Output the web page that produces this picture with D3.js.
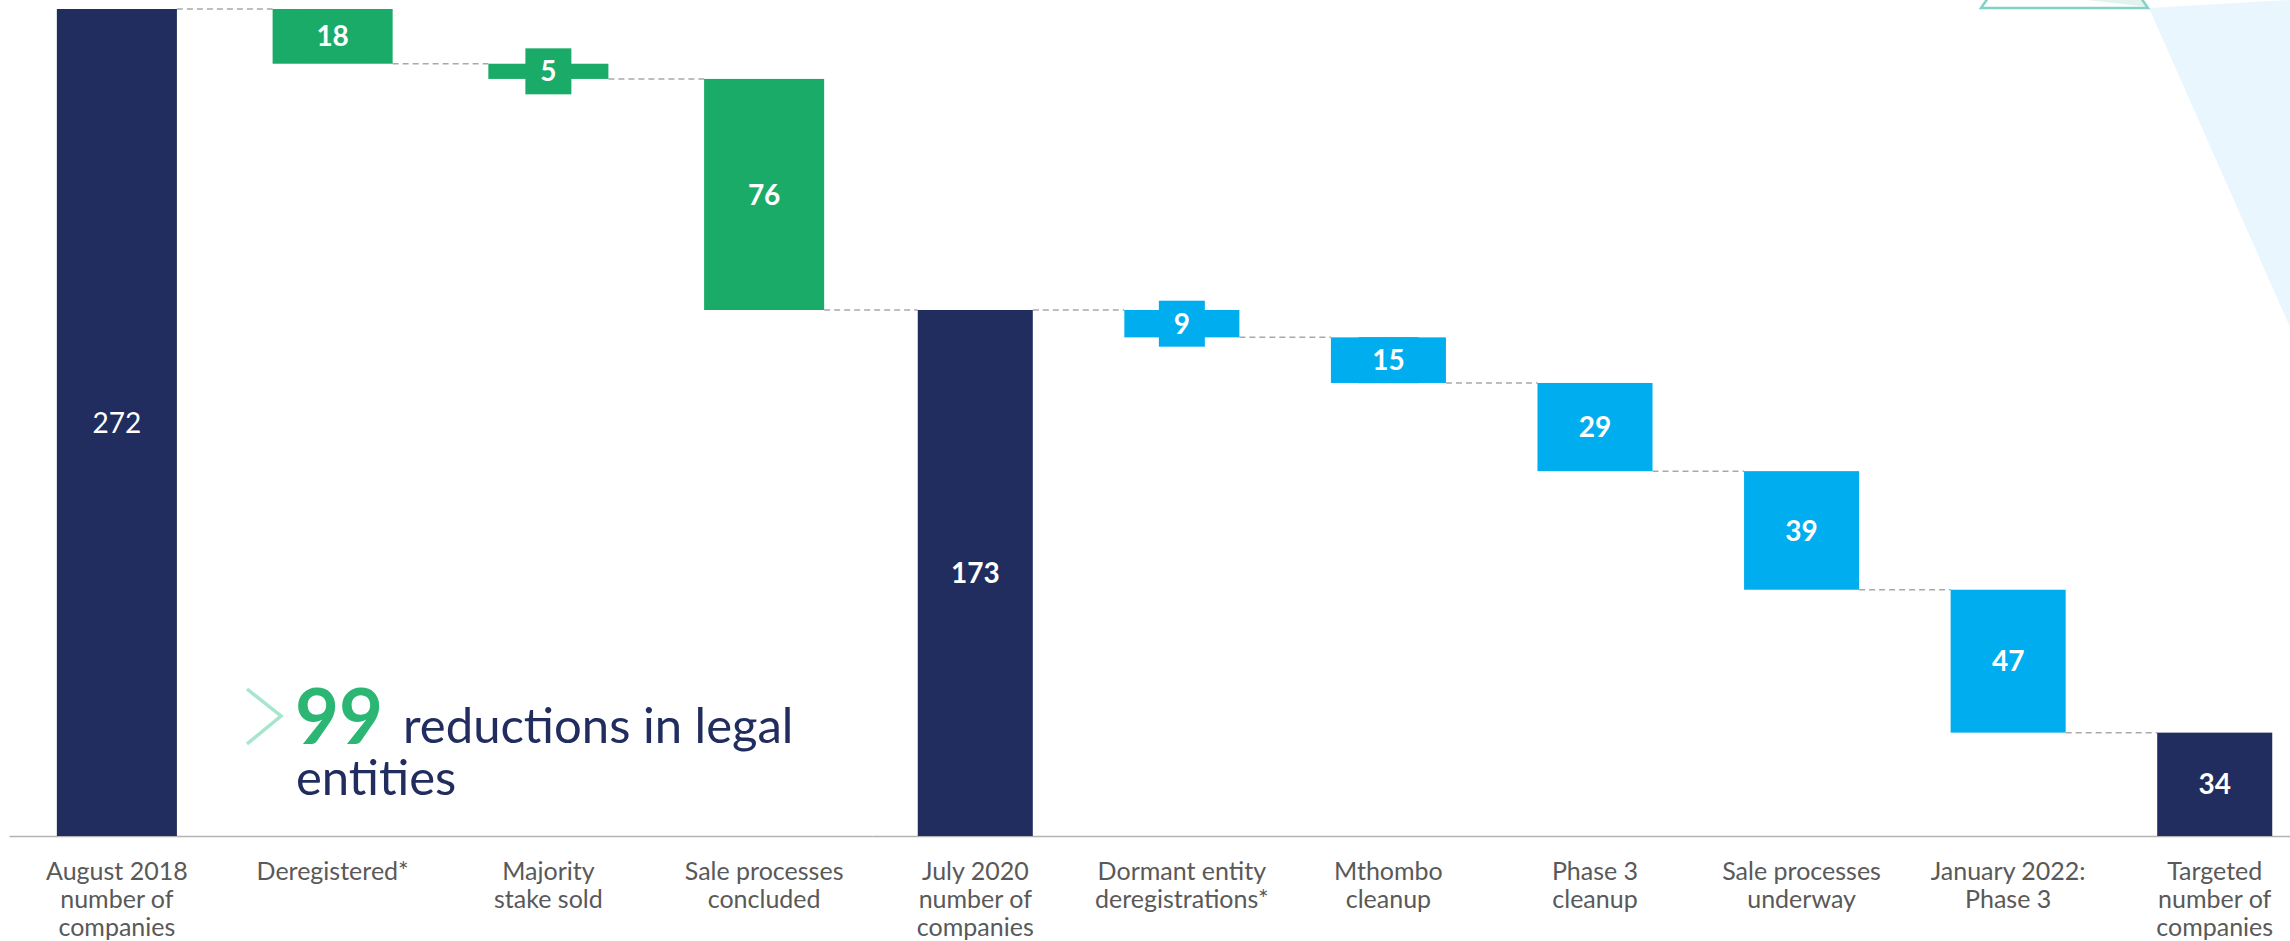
<!DOCTYPE html>
<html>
<head>
<meta charset="utf-8">
<script src="https://cdn.jsdelivr.net/npm/d3@7"></script>
<style>
  html, body { margin: 0; padding: 0; background: #ffffff; }
  svg { display: block; }
  text { font-family: Lato, "Open Sans", "Noto Sans", sans-serif; }
</style>
</head>
<body>
<svg id="chart" width="2290" height="941"></svg>
<script>
// Company count walk: August 2018 -> July 2020 -> targeted
const categories = [
  "August 2018\nnumber of\ncompanies",
  "Deregistered*",
  "Majority\nstake sold",
  "Sale processes\nconcluded",
  "July 2020\nnumber of\ncompanies",
  "Dormant entity\nderegistrations*",
  "Mthombo\ncleanup",
  "Phase 3\ncleanup",
  "Sale processes\nunderway",
  "January 2022:\nPhase 3",
  "Targeted\nnumber of\ncompanies"
];
const values  = [272, -18, -5, -76, 173, -9, -15, -29, -39, -47, 34];
const barKind = ["total", "change", "change", "change", "total", "change", "change", "change", "change", "change", "total"];
const phase   = ["done", "done", "done", "done", "plan", "plan", "plan", "plan", "plan", "plan", "plan"];

const headlineNumber = "99";
const headlineText = ["reductions in legal", "entities"];

const colors = { total: "#202d5e", done: "#1bab69", plan: "#00aeef" };

const svg = d3.select("#chart");
const baseY = 836, topY = 9;

// two panels: completed reductions, then the planned ones
const catsA = categories.filter((c, i) => phase[i] === "done");
const catsB = categories.filter((c, i) => phase[i] === "plan");
const xA = d3.scaleBand().domain(catsA).range([9, 872]).paddingInner(0.4436).paddingOuter(0.2218);
const xB = d3.scaleBand().domain(catsB).range([872, 2318]).paddingInner(0.4431).paddingOuter(0.2215);
const xOf = (c, i) => (phase[i] === "done" ? xA : xB);

const y = d3.scaleLinear().domain([0, 272]).range([baseY, topY]);

// running totals -> floating bar extents
let running = 0;
const bars = categories.map((c, i) => {
  const v = values[i];
  let lo, hi;
  if (barKind[i] === "total") { lo = 0; hi = v; running = v; }
  else { hi = running; lo = running + v; running = lo; }
  const sc = xOf(c, i);
  return {
    cat: c, i, v, lo, hi, end: running,
    x0: sc(c), w: sc.bandwidth(),
    fill: barKind[i] === "total" ? colors.total : colors[phase[i]]
  };
});

// decorative shapes in the top-right corner
svg.append("polygon")
  .attr("points", "2149,8 2290,0 2290,327")
  .attr("fill", "#e9f6fd");
svg.append("polygon")
  .attr("points", "2087,0 2148,7 2141,0")
  .attr("fill", "#e2f3ef");
svg.append("path")
  .attr("d", "M1988,-2 L1981,8 L2148,8 L2141,-2")
  .attr("fill", "none")
  .attr("stroke", "#80d3c5")
  .attr("stroke-width", 2.5);

// axes (baseline + category labels)
function drawAxis(scale) {
  const g = svg.append("g")
    .attr("transform", `translate(0,${baseY})`)
    .call(d3.axisBottom(scale).tickSize(0).tickSizeOuter(0).tickFormat(""));
  g.select(".domain").attr("stroke", "#b3b3b3").attr("stroke-width", 1.5);
  g.selectAll(".tick text").remove();
  g.selectAll(".tick").each(function (d) {
    const lines = d.split("\n");
    const t = d3.select(this).append("text")
      .attr("text-anchor", "middle")
      .attr("fill", "#595959")
      .attr("font-size", 25)
      .attr("y", 43.5);
    lines.forEach((ln, k) => {
      t.append("tspan").attr("x", 0).attr("dy", k === 0 ? 0 : 28.3).text(ln);
    });
  });
}
drawAxis(xA);
drawAxis(xB);

// dashed connectors between consecutive bars
const conn = svg.append("g");
bars.slice(0, -1).forEach((b, k) => {
  const nb = bars[k + 1];
  conn.append("line")
    .attr("x1", b.x0 + b.w)
    .attr("x2", nb.x0)
    .attr("y1", y(b.end))
    .attr("y2", y(b.end))
    .attr("stroke", "#a9a9a9")
    .attr("stroke-width", 1.5)
    .attr("stroke-dasharray", "6,4");
});

// bars
svg.append("g").selectAll("rect")
  .data(bars)
  .join("rect")
  .attr("x", d => d.x0)
  .attr("width", d => d.w)
  .attr("y", d => y(d.hi))
  .attr("height", d => y(d.lo) - y(d.hi))
  .attr("fill", d => d.fill);

// value labels (with a small backing box so thin bars stay readable)
const lab = svg.append("g");
bars.forEach(b => {
  const cx = b.x0 + b.w / 2;
  const cy = (y(b.lo) + y(b.hi)) / 2;
  const txt = String(Math.abs(b.v));
  if (barKind[b.i] === "change") {
    const bw = 32 + txt.length * 14;
    lab.append("rect")
      .attr("x", cx - bw / 2).attr("width", bw)
      .attr("y", cy - 23).attr("height", 46)
      .attr("fill", b.fill);
  }
  lab.append("text")
    .attr("x", cx)
    .attr("y", cy)
    .attr("dy", "0.36em")
    .attr("text-anchor", "middle")
    .attr("fill", "#ffffff")
    .attr("font-size", 28)
    .attr("font-weight", b.i === 0 ? 400 : 700)
    .text(txt);
});

// headline annotation
const ann = svg.append("g");
ann.append("polyline")
  .attr("points", "247,689 281,716 247,744")
  .attr("fill", "none")
  .attr("stroke", "#a6e6cc")
  .attr("stroke-width", 3.5);
const head = ann.append("text")
  .attr("x", 295).attr("y", 744)
  .attr("fill", "#202d5e")
  .attr("font-size", 49);
head.append("tspan")
  .attr("font-size", 76).attr("font-weight", 700)
  .attr("fill", "#2bb673")
  .text(headlineNumber);
head.append("tspan")
  .attr("x", 403).attr("dy", -1)
  .text(headlineText[0]);
head.append("tspan")
  .attr("x", 296).attr("dy", 52)
  .text(headlineText[1]);
</script>
</body>
</html>
